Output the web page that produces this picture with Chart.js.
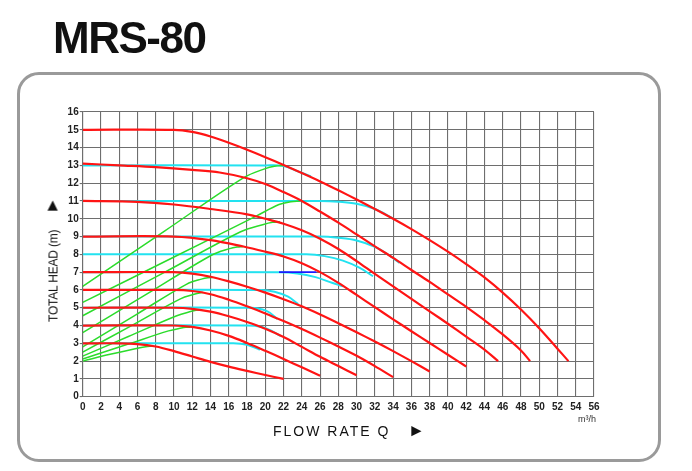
<!DOCTYPE html>
<html>
<head>
<meta charset="utf-8">
<title>MRS-80</title>
<script src="https://cdn.jsdelivr.net/npm/chart.js@4.4.1/dist/chart.umd.min.js"></script>
<style>
  html, body { margin: 0; padding: 0; background: #fff; }
  #page { position: relative; width: 692px; height: 471px; overflow: hidden; font-family: 'Liberation Sans', Arial, sans-serif; }
  #frame { position: absolute; left: 17px; top: 72px; width: 644px; height: 390px; box-sizing: border-box;
           border: 3px solid #9a9a9a; border-radius: 22px; }
  #chart { position: absolute; left: 0; top: 0; }
  #title { position: absolute; left: 53px; top: 16px; font-size: 44px; line-height: 44px; font-weight: bold;
           letter-spacing: -1.5px; color: #111; white-space: nowrap; }
  #xTitle { position: absolute; left: 273px; top: 424px; font-size: 14px; line-height: 14px; letter-spacing: 2px;
            color: #111; white-space: nowrap; }
  #yTitle { position: absolute; left: 0; top: 0; font-size: 12px; line-height: 12px; letter-spacing: -0.2px;
            color: #111; white-space: nowrap; transform-origin: 0 0; transform: translate(46.5px, 322px) rotate(-90deg); }
  .arrow { font-size: 17px; letter-spacing: 0; }
  #unit { position: absolute; left: 578px; top: 414px; font-size: 9px; line-height: 10px; color: #333; }
</style>
</head>
<body>
<div id="page">
  <div id="frame"></div>
  <canvas id="chart" width="692" height="471"></canvas>
  <div id="title">MRS-80</div>
  <div id="yTitle">TOTAL HEAD (m)&nbsp;&nbsp;&nbsp;&nbsp;&nbsp;<span class="arrow">&#9658;</span></div>
  <div id="xTitle">FLOW RATE Q&nbsp;&nbsp;&nbsp;<span class="arrow">&#9658;</span></div>
  <div id="unit">m&sup3;/h</div>
</div>
<script>
// pump curves, [flow m3/h, head m]
const red15 = [[0,15],[10,15],[12,14.88],[14,14.62],[16,14.27],[18,13.88],[20,13.46],[22,13.02],[24,12.57],[26,12.1],[28,11.6],[30,11.08],[32,10.55],[34,10.0],[36,9.42],[38,8.8],[40,8.15],[42,7.45],[44,6.7],[46,5.85],[48,4.9],[50,3.85],[52,2.7],[53.2,2.0]];
const red13 = [[0,13.1],[4,13.0],[8,12.9],[12,12.75],[15,12.6],[18,12.28],[20,11.95],[22,11.5],[24,11.0],[26,10.4],[28,9.78],[30,9.12],[32,8.45],[34,7.8],[36,7.12],[38,6.45],[40,5.75],[42,5.05],[44,4.3],[46,3.5],[48,2.6],[49,2.0]];
const red11 = [[0,11],[6,10.95],[10,10.8],[14,10.55],[18,10.25],[20,10.0],[22,9.72],[24,9.35],[26,8.88],[28,8.3],[30,7.62],[32,6.9],[34,6.2],[36,5.5],[38,4.8],[40,4.1],[42,3.38],[44,2.65],[45.5,2.0]];
const red9 = [[0,9],[10,9],[14,8.8],[17.6,8.44],[20,8.15],[22,7.88],[24,7.5],[26,7.0],[28,6.4],[30,5.72],[32,5.03],[34,4.35],[36,3.68],[38,3.02],[40,2.36],[42,1.7]];
const red7 = [[0,7],[10,7],[12,6.92],[14,6.74],[16,6.48],[18,6.18],[20,5.85],[22,5.48],[24,5.08],[26,4.62],[28,4.13],[30,3.62],[32,3.1],[34,2.56],[36,2.0],[38,1.42]];
const red6 = [[0,6],[10,6],[12,5.94],[14,5.76],[16,5.45],[18,5.08],[20,4.68],[22,4.25],[24,3.8],[26,3.32],[28,2.82],[30,2.3],[32,1.72],[34,1.1]];
const red5 = [[0,5],[10,5],[12,4.94],[14,4.78],[16,4.52],[18,4.2],[20,3.82],[22,3.35],[24,2.8],[26,2.24],[28,1.72],[30,1.2]];
const red4 = [[0,4],[10,4],[12,3.92],[14,3.72],[16,3.42],[18,3.02],[20,2.58],[22,2.12],[24,1.65],[26,1.18]];
const red3 = [[0,3],[4,3],[6,2.96],[8,2.82],[10,2.56],[12,2.26],[14,1.96],[16,1.69],[18,1.45],[20,1.22],[22,1.0]];

// system lines (green)
const green1 = [[0,6.2],[9,9.32],[17.6,12.3],[20,12.82],[21,12.95],[22.1,13.0]];
const green2 = [[0,5.3],[10,7.85],[19,10.15],[21.5,10.8],[22.8,10.96],[23.8,11.0]];
const green3 = [[0,4.55],[9,7.0],[17.3,9.27],[19.8,9.68],[20.8,9.8],[21.6,9.83]];
const green4 = [[0,3.6],[7,5.76],[14.1,7.95],[16.1,8.32],[16.9,8.41],[17.6,8.44]];
const green5 = [[0,2.8],[6,4.66],[11.4,6.33],[13.1,6.62],[13.7,6.68],[14.2,6.7]];
const green6 = [[0,2.5],[5,3.9],[10.7,5.5],[12.3,5.77],[12.8,5.83],[13.2,5.86]];
const green7 = [[0,2.28],[5,3.38],[10.3,4.55],[11.9,4.8],[12.4,4.86],[12.8,4.88]];
const green8 = [[0,2.12],[5,2.96],[9.4,3.7],[10.8,3.86],[11.3,3.9],[11.8,3.91]];
const green9 = [[0,2.0],[3,2.38],[6,2.72],[6.9,2.81],[7.6,2.84]];

// constant head lines (cyan)
const cyan13 = [[0,13],[20,13],[22,12.97],[23.5,12.68],[25,12.38]];
const cyan11 = [[0,11],[26,11],[28,10.96],[30,10.84],[32,10.55],[34,10.02]];
const cyan9 = [[0,9],[26,9],[28,8.93],[30,8.78],[32,8.42],[33.5,7.97],[34.7,7.52]];
const cyan8 = [[0,8],[24.5,8],[26.5,7.9],[28.5,7.65],[30.3,7.25],[31.8,6.77]];
const cyan7 = [[0,7],[21.5,7],[23.5,6.93],[25.5,6.72],[27.3,6.4],[28.5,6.2]];
const cyan6 = [[0,6],[19.5,6],[21,5.9],[22.5,5.62],[23.6,5.2]];
const cyan5 = [[0,5],[18.5,5],[19.7,4.9],[20.5,4.72],[21.3,4.36]];
const cyan4 = [[0,4],[18,4],[19.5,3.93],[20.7,3.7],[21.7,3.4]];
const cyan3 = [[0,3],[16.5,3],[18,2.92],[19.4,2.64]];
const blue7 = [[21.5,7],[25.6,7]];

const redCurves = [red15, red13, red11, red9, red7, red6, red5, red4, red3];
const greenCurves = [green1, green2, green3, green4, green5, green6, green7, green8, green9];
const cyanCurves = [cyan13, cyan11, cyan9, cyan8, cyan7, cyan6, cyan5, cyan4, cyan3];

function curve(points, color, width, order) {
  return {
    data: points.map(p => ({ x: p[0], y: p[1] })),
    borderColor: color,
    borderWidth: width,
    pointRadius: 0,
    fill: false,
    tension: 0.35,
    order: order
  };
}

const datasets = [];
redCurves.forEach(c => datasets.push(curve(c, '#ff1414', 2.2, 1)));
greenCurves.forEach(c => datasets.push(curve(c, '#2bdc2b', 1.5, 2)));
datasets.push(curve(blue7, '#1a1aff', 1.6, 2));
cyanCurves.forEach(c => datasets.push(curve(c, '#22e2f0', 2, 3)));

const tickFont = { family: "'Liberation Sans Narrow', 'Liberation Sans', Arial, sans-serif", size: 10, weight: 'bold' };
const gridColor = '#6e6e6e';

const ctx = document.getElementById('chart').getContext('2d');
window.myChart = new Chart(ctx, {
  type: 'line',
  data: { datasets: datasets },
  options: {
    responsive: false,
    animation: false,
    events: [],
    layout: { padding: { left: 0, top: 112, right: 98, bottom: 20 } },
    plugins: { legend: { display: false }, tooltip: { enabled: false } },
    scales: {
      x: {
        type: 'linear',
        min: 0,
        max: 56,
        ticks: { stepSize: 2, autoSkip: false, maxRotation: 0, padding: 5, color: '#222', font: tickFont },
        grid: { color: gridColor, lineWidth: 1.1, drawTicks: false },
        border: { color: gridColor, width: 1.1 },
        afterFit: function(scale) { scale.height = 471 - 20 - 396.7; }
      },
      y: {
        type: 'linear',
        min: 0,
        max: 16,
        ticks: { stepSize: 1, autoSkip: false, padding: 1, color: '#222', font: tickFont },
        grid: { color: gridColor, lineWidth: 1.1, tickLength: 3 },
        border: { color: gridColor, width: 1.1 },
        afterFit: function(scale) { scale.width = 82.7; }
      }
    }
  }
});
</script>
</body>
</html>
